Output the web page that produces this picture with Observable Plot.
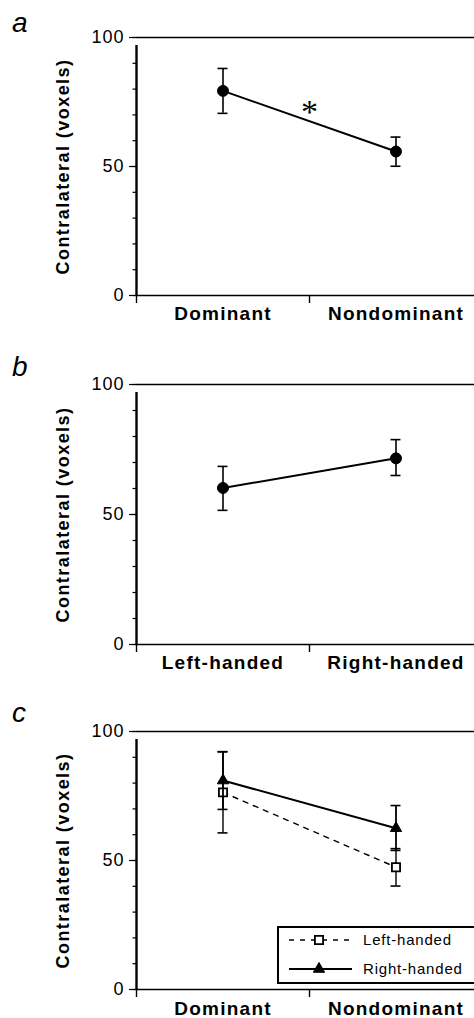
<!DOCTYPE html>
<html><head><meta charset="utf-8">
<script src="https://cdn.jsdelivr.net/npm/d3@7"></script>
<script src="https://cdn.jsdelivr.net/npm/@observablehq/plot@0.6"></script>
<style>
html,body{margin:0;padding:0;background:#fff;overflow:hidden}
#root{position:relative;width:474px;height:1018px;font-family:"Liberation Sans",Arial,sans-serif;color:#000}
.panel{position:absolute;left:0;width:474px;overflow:hidden}
.letter{position:absolute;left:12px;font:italic 28px/28px "Liberation Sans",Arial,sans-serif}
.legend{position:absolute;left:277px;top:926px;width:220px;height:54px;border:2px solid #000;background:#fff}
.legend .row{position:absolute;left:0;height:20px;width:220px}
.legend svg{position:absolute;left:10px;top:0}
.legend span{position:absolute;left:84px;top:1px;font:15px/18px "Liberation Sans",Arial,sans-serif;letter-spacing:0.8px}
</style></head><body><div id="root"></div><script>
// ---- data ----
const yLabel = "Contralateral (voxels)";
const yMajorTicks = [0, 50, 100];
const yMinorTicks = [0, 10, 20, 30, 40, 50, 60, 70, 80, 90, 100];
const panelLetters = ["a", "b", "c"];

const catsA = ["Dominant", "Nondominant"];
const meanA = [79.3, 55.8];
const lowA = [70.6, 50.1];
const highA = [88.0, 61.4];
const sigA = "*";

const catsB = ["Left-handed", "Right-handed"];
const meanB = [60.2, 71.6];
const lowB = [51.6, 65.0];
const highB = [68.5, 78.8];

const catsC = ["Dominant", "Nondominant"];
const seriesC = ["Left-handed", "Right-handed"];
const meanCLeft = [76.4, 47.4];
const lowCLeft = [60.7, 40.1];
const highCLeft = [92.1, 54.6];
const meanCRight = [81.0, 62.5];
const lowCRight = [69.8, 53.9];
const highCRight = [92.2, 71.3];

// ---- helpers ----
const FONT = "Liberation Sans, Arial, sans-serif";
function rows(cats, mean, lo, hi) {
  return cats.map((c, i) => ({cat: c, pos: i + 0.5, mean: mean[i], lo: lo[i], hi: hi[i]}));
}
function seriesMarks(r, s) {
  return [
    Plot.ruleX(r, {x: "pos", y1: "lo", y2: "hi", stroke: "#000", strokeWidth: s.ebw || 1.6}),
    Plot.ruleY(r, {y: "hi", x1: "pos", x2: "pos", insetLeft: -5, insetRight: -5, stroke: "#000", strokeWidth: 1.6}),
    Plot.ruleY(r, {y: "lo", x1: "pos", x2: "pos", insetLeft: -5, insetRight: -5, stroke: "#000", strokeWidth: 1.6}),
    Plot.line(r, {x: "pos", y: "mean", stroke: "#000", strokeWidth: s.lw || 2, strokeDasharray: s.dash || null}),
    Plot.dot(r, {x: "pos", y: "mean", symbol: s.symbol || "circle", r: s.r || 5.5, fill: s.fill || "#000", stroke: "#000", strokeWidth: s.sw || 1})
  ];
}
function panel(cats, seriesList, cfg) {
  const nCat = cats.length;
  const svg = Plot.plot({
    width: 474, height: cfg.height,
    marginLeft: 136, marginRight: 0, marginTop: cfg.mt, marginBottom: cfg.mb,
    x: {domain: [0, nCat], range: [136, 482]},
    y: {domain: [0, 100]},
    style: {fontFamily: FONT, color: "#000", background: "#fff"},
    marks: [
      Plot.ruleY([0, 100], {y: d => d, x1: () => 0, x2: () => nCat, stroke: "#000", strokeWidth: 1.6}),
      Plot.ruleX([0], {x: d => d, y1: () => 0, y2: () => 100, insetBottom: -8, stroke: "#000", strokeWidth: 2.4}),
      Plot.axisY({ticks: yMinorTicks, tickSize: 3.5, tickFormat: () => "", label: null, strokeWidth: 1.2}),
      Plot.axisY({ticks: yMajorTicks, tickSize: 7, tickPadding: 5, label: null, fontSize: 18, strokeWidth: 1.2}),
      Plot.axisX({ticks: d3.range(0, nCat + 1), tickSize: 8, tickFormat: () => "", label: null, strokeWidth: 1.4}),
      Plot.axisX({ticks: cats.map((c, i) => i + 0.5), tickSize: 0, tickPadding: cfg.labelPad, label: null,
        tickFormat: d => cats[Math.round(d - 0.5)], fontSize: 19, fontWeight: "bold"}),
      Plot.text([yLabel], {frameAnchor: "left", textAnchor: "middle", lineAnchor: "middle", rotate: -90, dx: -73,
        text: d => d, fontSize: 18, fontWeight: "bold"}),
      ...seriesList.flatMap(s => seriesMarks(s.rows, s)),
      ...(cfg.extra || [])
    ]
  });
  // widen lettering to match the reference typeface
  d3.select(svg).selectAll("text").each(function() {
    const t = this.textContent;
    let ls = null;
    if (t === yLabel) ls = "1.45px";
    else if (cats.includes(t)) ls = "1.25px";
    else if (/^\d+$/.test(t)) ls = "1px";
    if (ls) d3.select(this).style("letter-spacing", ls);
  });
  return svg;
}

const root = document.getElementById("root");
function place(node, top, h) {
  const d = document.createElement("div");
  d.className = "panel"; d.style.top = top + "px"; d.style.height = h + "px";
  d.appendChild(node); root.appendChild(d);
}

// Panel a
const rA = rows(catsA, meanA, lowA, highA);
place(panel(catsA, [{rows: rA}], {height: 340, mt: 37, mb: 45, labelPad: 11,
  extra: [Plot.text([sigA], {x: () => catsA.length / 2, y: () => d3.mean(meanA), dy: -9, text: d => d,
    fontSize: 34, fontFamily: "Liberation Serif, serif", lineAnchor: "middle"})]}), 0, 340);

// Panel b
const rB = rows(catsB, meanB, lowB, highB);
place(panel(catsB, [{rows: rB}], {height: 340, mt: 44, mb: 36, labelPad: 11}), 340, 340);

// Panel c
const rCL = rows(catsC, meanCLeft, lowCLeft, highCLeft);
const rCR = rows(catsC, meanCRight, lowCRight, highCRight);
const styleCL = {rows: rCL, symbol: "square", r: 4.6, fill: "#fff", sw: 1.8, dash: "5,6", lw: 1.4, ebw: 1.4};
const styleCR = {rows: rCR, symbol: "triangle", r: 4.2, fill: "#000", lw: 2, ebw: 1.8};
place(panel(catsC, [styleCL, styleCR], {height: 338, mt: 51, mb: 29, labelPad: 12}), 680, 338);

// Panel letters
const letterTops = [9, 353, 699];
panelLetters.forEach((l, i) => {
  const s = document.createElement("div");
  s.className = "letter"; s.style.top = letterTops[i] + "px"; s.textContent = l;
  root.appendChild(s);
});

// Legend (panel c)
const legend = document.createElement("div");
legend.className = "legend";
const legendStyles = [styleCL, styleCR];
seriesC.forEach((name, i) => {
  const st = legendStyles[i];
  const row = document.createElement("div");
  row.className = "row"; row.style.top = (i === 0 ? 2 : 31) + "px";
  const svg = d3.create("svg").attr("width", 66).attr("height", 20);
  svg.append("line").attr("x1", 0).attr("x2", 63).attr("y1", 10).attr("y2", 10)
    .attr("stroke", "#000").attr("stroke-width", st.lw).attr("stroke-dasharray", st.dash || null);
  const sym = st.symbol === "square" ? d3.symbolSquare : d3.symbolTriangle;
  svg.append("path").attr("transform", "translate(30,10)")
    .attr("d", d3.symbol(sym, Math.PI * st.r * st.r)())
    .attr("fill", st.fill).attr("stroke", "#000").attr("stroke-width", st.sw || 1);
  row.appendChild(svg.node());
  const t = document.createElement("span"); t.textContent = name;
  row.appendChild(t);
  legend.appendChild(row);
});
root.appendChild(legend);
</script></body></html>
